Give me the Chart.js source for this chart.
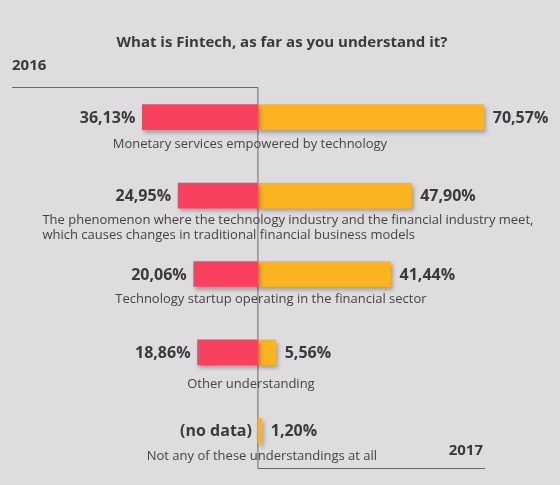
<!DOCTYPE html>
<html>
<head>
<meta charset="utf-8">
<title>What is Fintech</title>
<script src="https://cdn.jsdelivr.net/npm/chart.js@4.4.1/dist/chart.umd.min.js"></script>
<style>
	html, body { margin: 0; padding: 0; background: #dedcde; }
	canvas { display: block; }
</style>
</head>
<body>
<canvas id="myChart" width="560" height="485"></canvas>
<script>
var titulo = 'What is Fintech, as far as you understand it?';
var anos = ['2016', '2017'];
var categorias = [
	'Monetary services empowered by technology',
	['The phenomenon where the technology industry and the financial industry meet,', 'which causes changes in traditional financial business models'],
	'Technology startup operating in the financial sector',
	'Other understanding',
	'Not any of these understandings at all'
];
var valores2016 = [36.13, 24.95, 20.06, 18.86, null];
var valores2017 = [70.57, 47.90, 41.44, 5.56, 1.20];
var textoSemDados = '(no data)';

var corTexto = '#3a3a3a';
var fonte = '"Open Sans", "Liberation Sans", sans-serif';

function formatarPercentual(v){
	return v.toFixed(2).replace('.', ',') + '%';
}

// desenha linhas de eixo e sombra das barras
var pluginFundo = {
	id: 'fundo',
	beforeDatasetsDraw: function(chart){
		var ctx = chart.ctx;
		var x0 = chart.scales.x.getPixelForValue(0);
		ctx.save();
		ctx.strokeStyle = '#6b6b6b';
		ctx.lineWidth = 1;
		ctx.beginPath();
		ctx.moveTo(12, 87.5);
		ctx.lineTo(x0, 87.5);
		ctx.moveTo(x0, 87.5);
		ctx.lineTo(x0, 468.5);
		ctx.lineTo(485, 468.5);
		ctx.stroke();
		ctx.restore();

		ctx.save();
		ctx.shadowColor = 'rgba(0, 0, 0, 0.28)';
		ctx.shadowBlur = 4;
		ctx.shadowOffsetX = 2;
		ctx.shadowOffsetY = 3;
	},
	afterDatasetsDraw: function(chart){
		chart.ctx.restore();
	}
};

// textos: titulo, anos, valores e categorias
var pluginTextos = {
	id: 'textos',
	afterDraw: function(chart){
		var ctx = chart.ctx;
		var sx = chart.scales.x;
		var sy = chart.scales.y;
		var x0 = sx.getPixelForValue(0);
		// pequenos ajustes de posicao dos rotulos de categoria
		var ajusteX = [-8, 30, 13, -7, 4];
		var ajusteY = [27, 25, 25, 32, 25];
		ctx.save();
		ctx.fillStyle = corTexto;
		ctx.textBaseline = 'middle';

		ctx.font = 'bold 15px ' + fonte;
		ctx.textAlign = 'center';
		ctx.fillText(titulo, 282, 43);
		ctx.textAlign = 'left';
		ctx.fillText(anos[0], 12, 66);
		ctx.textAlign = 'right';
		ctx.fillText(anos[1], 483, 451);

		for (var i = 0; i < categorias.length; i++) {
			var y = sy.getPixelForValue(i);
			ctx.font = 'bold 16px ' + fonte;
			ctx.fillStyle = corTexto;
			ctx.textAlign = 'right';
			if (valores2016[i] === null) {
				ctx.fillText(textoSemDados, x0 - 6, y + 1);
			} else {
				ctx.fillText(formatarPercentual(valores2016[i]), sx.getPixelForValue(-valores2016[i]) - 7, y + 1);
			}
			ctx.textAlign = 'left';
			ctx.fillText(formatarPercentual(valores2017[i]), sx.getPixelForValue(valores2017[i]) + 9, y + 1);

			ctx.font = '13px ' + fonte;
			ctx.fillStyle = '#444444';
			var linhas = Array.isArray(categorias[i]) ? categorias[i] : [categorias[i]];
			if (linhas.length > 1) {
				var largura = 0;
				linhas.forEach(function(l){ largura = Math.max(largura, ctx.measureText(l).width); });
				ctx.textAlign = 'left';
				var xi = x0 + ajusteX[i] - largura / 2;
				linhas.forEach(function(l, k){ ctx.fillText(l, xi, y + ajusteY[i] + k * 15); });
			} else {
				ctx.textAlign = 'center';
				ctx.fillText(linhas[0], x0 + ajusteX[i], y + ajusteY[i]);
			}
		}
		ctx.restore();
	}
};

function renderChart(){
	var ctx = document.getElementById('myChart').getContext('2d');
	var myChart = new Chart(ctx, {
		type: 'bar',
		data: {
			labels: categorias,
			datasets: [{
				label: anos[0],
				data: valores2016.map(function(v){ return v === null ? null : -v; }),
				backgroundColor: '#f9405e',
				barThickness: 25
			}, {
				label: anos[1],
				data: valores2017,
				backgroundColor: '#fbb320',
				barThickness: 25
			}]
		},
		options: {
			indexAxis: 'y',
			responsive: false,
			animation: false,
			layout: {
				padding: { top: 78, bottom: 15, left: 0, right: 0 }
			},
			scales: {
				x: { display: false, stacked: true, min: -80.6, max: 94.4 },
				y: { display: false, stacked: true }
			},
			plugins: {
				legend: { display: false },
				tooltip: { enabled: false }
			}
		},
		plugins: [pluginFundo, pluginTextos]
	});
}

renderChart();
</script>
</body>
</html>
